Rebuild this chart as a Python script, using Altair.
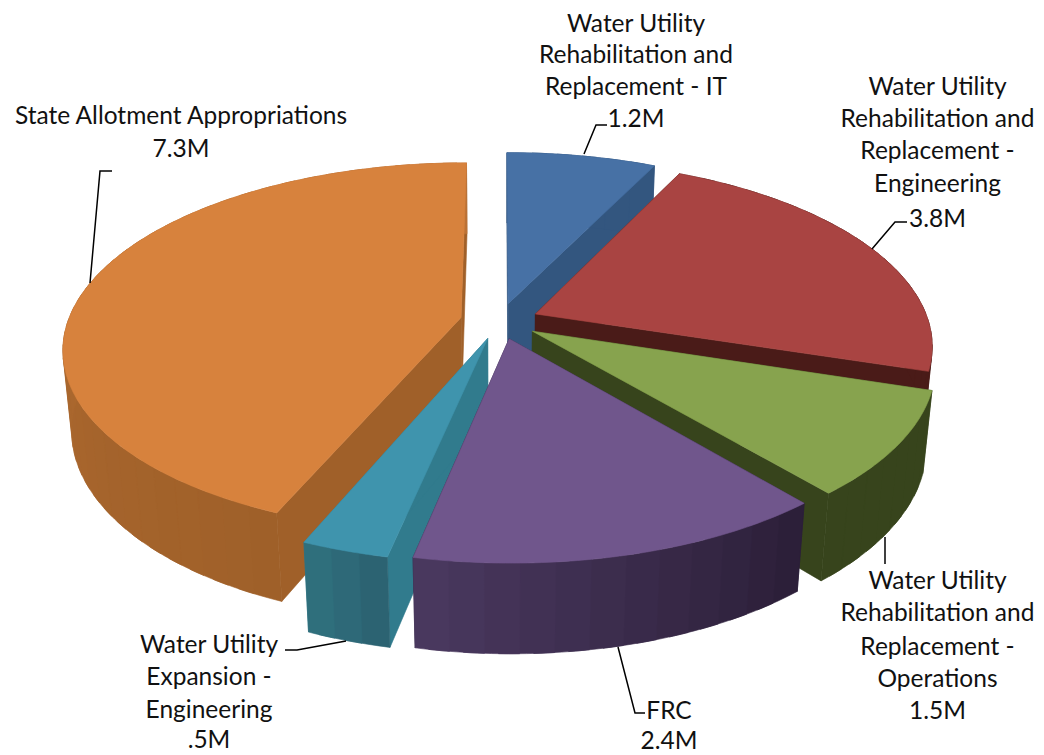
import math
import altair as alt
import pandas as pd

# ---- data, in pie order, clockwise from 12 o'clock
categories = ["Water Utility Rehabilitation and Replacement - IT",
              "Water Utility Rehabilitation and Replacement - Engineering",
              "Water Utility Rehabilitation and Replacement - Operations",
              "FRC",
              "Water Utility Expansion - Engineering",
              "State Allotment Appropriations"]
values = [1.2, 3.8, 1.5, 2.4, 0.5, 7.3]

top_colors = ["#4771A5", "#A94442", "#87A34E", "#70568C", "#3F94AD", "#D7823D"]
inner_colors = ["#33567F", "#4A1B18", "#37441C", "#2E2340", "#317B8D", "#A06029"]
wall_start = ["#33567F", "#4A1B18", "#37441C", "#2B1E37", "#2B6070", "#9F6029"]
wall_end = ["#33567F", "#4A1B18", "#37441C", "#4A3960", "#30727F", "#BB7236"]
draw_order = [0, 1, 2, 5, 4, 3]

label_lines = [["Water Utility", "Rehabilitation and", "Replacement - IT", "1.2M"],
               ["Water Utility", "Rehabilitation and", "Replacement -", "Engineering", "3.8M"],
               ["Water Utility", "Rehabilitation and", "Replacement -", "Operations", "1.5M"],
               ["FRC", "2.4M"],
               ["Water Utility", "Expansion -", "Engineering", ".5M"],
               ["State Allotment Appropriations", "7.3M"]]
label_x = [636, 937.5, 937.5, 669, 209, 181]
label_y = [[25, 56, 88, 120], [88, 120, 152, 185, 220], [582, 614, 648, 680, 712],
           [712, 742], [646, 678, 711, 741], [117, 150]]
leader_x = [[584, 596, 607], [872, 895, 907], [885, 885], [618, 635, 645], [346, 297, 285], [90, 100, 112]]
leader_y = [[154, 125, 125], [249, 222, 222], [537, 564], [647, 713, 713], [641, 650, 650], [283, 171, 171]]

# ---- view of the tilted pie
CX, CY = 499.5, 321
A, B, C = 393, 181, 81
K, M = 0.164, 0.02
EXPLODE = 0.1


def proj(X, Y, Z):
    w = 1 + K * Y - M * Z
    return CX + A * X / w, CY - B * Y / w - C * Z / w


def hex2rgb(h):
    return [int(h[i:i + 2], 16) for i in (1, 3, 5)]


def mix(a, b, t):
    ra, rb = hex2rgb(a), hex2rgb(b)
    return "#%02x%02x%02x" % tuple(round(p + (q - p) * t) for p, q in zip(ra, rb))


total = sum(values)
rows = []
pid = 0


def add_poly(points, color):
    global pid
    for i, (x, y) in enumerate(points):
        rows.append({"poly": pid, "i": i, "x": x, "y": y, "col": color})
    pid += 1


starts = []
acc = 0.0
for v in values:
    starts.append(acc)
    acc += v / total * 2 * math.pi

for s in draw_order:
    a0 = starts[s]
    a1 = a0 + values[s] / total * 2 * math.pi
    mid = (a0 + a1) / 2
    ox, oy = EXPLODE * math.sin(mid), EXPLODE * math.cos(mid)

    def rim(a, z):
        return proj(ox + math.sin(a), oy + math.cos(a), z)

    apex_t, apex_b = proj(ox, oy, 0), proj(ox, oy, -1)
    # inner faces
    add_poly([apex_t, rim(a0, 0), rim(a0, -1), apex_b], inner_colors[s])
    add_poly([apex_t, rim(a1, 0), rim(a1, -1), apex_b], inner_colors[s])
    # outer wall, in narrow overlapping bands
    n = max(3, int((a1 - a0) / math.radians(4)))
    for j in range(n):
        b0 = a0 + (a1 - a0) * j / n
        b1 = a0 + (a1 - a0) * min(j + 1.6, n) / n
        corners = [rim(b0 + (b1 - b0) * q / 4, 0) for q in range(5)]
        corners += [rim(b1 - (b1 - b0) * q / 4, -1) for q in range(5)]
        add_poly(corners, mix(wall_start[s], wall_end[s], (j + 0.5) / n))
    # top face
    n = 60
    add_poly([apex_t] + [rim(a0 + (a1 - a0) * j / n, 0) for j in range(n + 1)], top_colors[s])

poly_df = pd.DataFrame(rows)

text_rows = []
for k, lines in enumerate(label_lines):
    for ln, yy in zip(lines, label_y[k]):
        text_rows.append({"t": ln, "x": label_x[k], "y": yy})
text_df = pd.DataFrame(text_rows)

lead_rows = []
for k in range(len(leader_x)):
    for i, (x, y) in enumerate(zip(leader_x[k], leader_y[k])):
        lead_rows.append({"k": k, "i": i, "x": x, "y": y})
lead_df = pd.DataFrame(lead_rows)

xs = alt.Scale(domain=[8, 1036], range=[0, 1028], nice=False, zero=False)
ys = alt.Scale(domain=[8, 755], range=[0, 747], nice=False, zero=False)
X = alt.X("x:Q", scale=xs, axis=None)
Y = alt.Y("y:Q", scale=ys, axis=None)

wedges = alt.Chart(poly_df).mark_line(strokeWidth=0.6, strokeJoin="round", interpolate="linear-closed").encode(
    x=X, y=Y, order="i:Q", detail="poly:N",
    fill=alt.Fill("col:N", scale=None),
    stroke=alt.Stroke("col:N", scale=None),
)
leaders = alt.Chart(lead_df).mark_line(color="#000000", strokeWidth=1.5).encode(
    x=X, y=Y, order="i:Q", detail="k:N")
texts = alt.Chart(text_df).mark_text(font="Lato", fontSize=24.5, color="#111111", align="center", baseline="middle").encode(
    x=X, y=Y, text="t:N")

chart = alt.layer(wedges, leaders, texts).properties(
    width=1028, height=747, padding=0, autosize=alt.AutoSizeParams(type="none"), background="#ffffff",
).configure_view(stroke=None)

chart.save("out.html", embed_options={"renderer": "svg", "actions": False})
